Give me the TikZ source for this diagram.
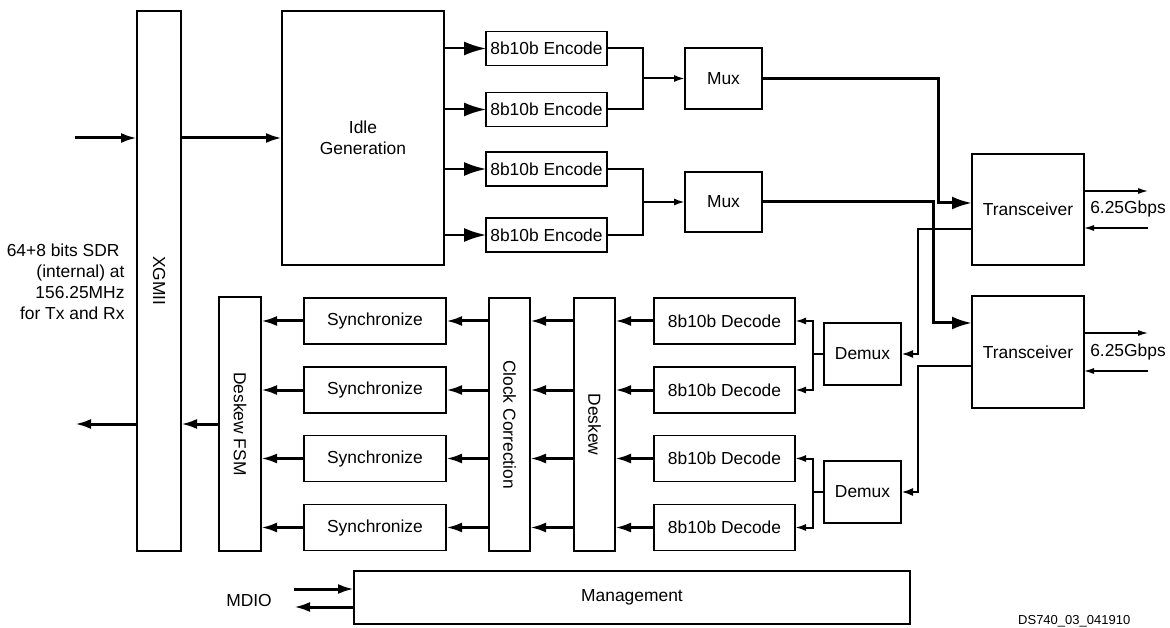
\documentclass[tikz,border=0pt]{standalone}
\usepackage{fontspec}
\setmainfont{Liberation Sans}
\usetikzlibrary{arrows.meta}

\begin{document}
\begin{tikzpicture}[x=1pt,y=-1pt,
  font=\fontsize{17.4}{21}\selectfont,
  blk/.style={draw,line width=1.8pt,inner sep=0pt,outer sep=0pt},
  fat/.style={line width=3pt,-{Latex[length=16pt,width=10pt]}},
  enc/.style={line width=2pt,-{Latex[length=22pt,width=14pt]}},
  thin/.style={line width=2pt,-{Latex[length=11pt,width=7pt]}},
  mid/.style={line width=2.5pt,-{Latex[length=12pt,width=8pt]}},
  big/.style={line width=3pt,-{Latex[length=20pt,width=13pt]}},
  ext/.style={line width=1.2pt,-{Latex[length=10pt,width=6pt]}},
  wire/.style={line width=2pt}]

  \useasboundingbox (0,0) rectangle (1170,628);

  \node[blk, minimum width=44pt, minimum height=540pt] (xgmii) at (159, 281) {\rotatebox{-90}{XGMII}};
  \node[blk, minimum width=162pt, minimum height=254pt, align=center] (idle) at (363, 138) {Idle\\Generation};

  \node[blk, minimum width=121pt, minimum height=34pt] (enc1) at (546.5, 48.5) {8b10b Encode};
  \node[blk, minimum width=121pt, minimum height=34pt] (enc2) at (546.5, 109.5) {8b10b Encode};
  \node[blk, minimum width=121pt, minimum height=34pt] (enc3) at (546.5, 169) {8b10b Encode};
  \node[blk, minimum width=121pt, minimum height=34pt] (enc4) at (546.5, 235) {8b10b Encode};

  \node[blk, minimum width=77pt, minimum height=61pt] (mux1) at (723.5, 78.5) {Mux};
  \node[blk, minimum width=77pt, minimum height=60pt] (mux2) at (723.5, 202) {Mux};

  \node[blk, minimum width=112pt, minimum height=111pt] (trx1) at (1028, 209.5) {Transceiver};
  \node[blk, minimum width=112pt, minimum height=112pt] (trx2) at (1028, 352) {Transceiver};

  \node[blk, minimum width=77pt, minimum height=62pt] (dmx1) at (862.5, 354) {Demux};
  \node[blk, minimum width=77pt, minimum height=62pt] (dmx2) at (862.5, 492) {Demux};

  \node[blk, minimum width=141pt, minimum height=46pt] (dec1) at (724.5, 321) {8b10b Decode};
  \node[blk, minimum width=141pt, minimum height=46pt] (dec2) at (724.5, 390) {8b10b Decode};
  \node[blk, minimum width=141pt, minimum height=46pt] (dec3) at (724.5, 458.5) {8b10b Decode};
  \node[blk, minimum width=141pt, minimum height=46pt] (dec4) at (724.5, 527.5) {8b10b Decode};

  \node[blk, minimum width=41pt, minimum height=253pt] (deskew) at (594.5, 424.5) {\rotatebox{-90}{Deskew}};
  \node[blk, minimum width=41pt, minimum height=253pt] (clkcor) at (509.5, 424.5) {\rotatebox{-90}{Clock Correction}};

  \node[blk, minimum width=142pt, minimum height=46pt] (sync1) at (375, 321) {Synchronize};
  \node[blk, minimum width=142pt, minimum height=46pt] (sync2) at (375, 390) {Synchronize};
  \node[blk, minimum width=142pt, minimum height=46pt] (sync3) at (375, 458.5) {Synchronize};
  \node[blk, minimum width=142pt, minimum height=46pt] (sync4) at (375, 527.5) {Synchronize};

  \node[blk, minimum width=42pt, minimum height=254pt] (dskfsm) at (240, 424) {\rotatebox{-90}{Deskew FSM}};
  \node[blk, minimum width=556pt, minimum height=53pt] (mgmt) at (632, 597.5) {Management};

  \node[align=right, anchor=east] (sdr) at (128, 282) {64+8 bits SDR\hspace*{5pt}\\(internal) at\hspace*{5pt}\\156.25MHz\\for Tx and Rx};
  \node (mdio) at (249, 601) {MDIO};
  \node (rate1) at (1128, 209) {6.25Gbps};
  \node (rate2) at (1128, 352) {6.25Gbps};
  \node[font=\fontsize{13}{15}\selectfont, anchor=north west, inner sep=0pt] (dsnum) at (1018, 615) {DS740\_03\_041910};

  \coordinate (xin) at (75, 138);
  \coordinate (xout) at (75, 424);
  \draw[fat] (xin) -- (xin -| xgmii.west);
  \draw[fat] (xgmii.east |- idle.west) -- (idle.west);
  \draw[fat] (dskfsm.west) -- (dskfsm.west -| xgmii.east);
  \draw[fat] (xout -| xgmii.west) -- (xout);

  \draw[enc] (enc1.west -| idle.east) -- (enc1.west);
  \draw[enc] (enc2.west -| idle.east) -- (enc2.west);
  \draw[enc] (enc3.west -| idle.east) -- (enc3.west);
  \draw[enc] (enc4.west -| idle.east) -- (enc4.west);

  \coordinate (j1) at (643, 78.5);
  \coordinate (j2) at (643, 202);
  \draw[wire] (enc1.east) -| (j1) |- (enc2.east);
  \draw[wire] (enc3.east) -| (j2) |- (enc4.east);
  \draw[thin] (j1) -- (mux1.west);
  \draw[thin] (j2) -- (mux2.west);

  \coordinate (b1) at (938, 203);
  \coordinate (b2) at (933, 323);
  \draw[big] (mux1.east) -| (b1) -- (b1 -| trx1.west);
  \draw[big] (mux2.east) -| (b2) -- (b2 -| trx2.west);

  \coordinate (c1) at (918, 229);
  \coordinate (c2) at (918, 366);
  \draw[mid] (c1 -| trx1.west) -- (c1) |- (dmx1.east);
  \draw[mid] (c2 -| trx2.west) -- (c2) |- (dmx2.east);

  \coordinate (d1) at (813, 354);
  \coordinate (d2) at (813, 492);
  \draw[wire] (dmx1.west) -- (d1);
  \draw[wire] (dmx2.west) -- (d2);
  \draw[thin] (d1) |- (dec1.east);
  \draw[thin] (d1) |- (dec2.east);
  \draw[thin] (d2) |- (dec3.east);
  \draw[thin] (d2) |- (dec4.east);

  \draw[fat] (dec1.west) -- (dec1.west -| deskew.east);
  \draw[fat] (dec2.west) -- (dec2.west -| deskew.east);
  \draw[fat] (dec3.west) -- (dec3.west -| deskew.east);
  \draw[fat] (dec4.west) -- (dec4.west -| deskew.east);
  \draw[fat] (dec1.west -| deskew.west) -- (dec1.west -| clkcor.east);
  \draw[fat] (dec2.west -| deskew.west) -- (dec2.west -| clkcor.east);
  \draw[fat] (dec3.west -| deskew.west) -- (dec3.west -| clkcor.east);
  \draw[fat] (dec4.west -| deskew.west) -- (dec4.west -| clkcor.east);
  \draw[fat] (sync1.east -| clkcor.west) -- (sync1.east);
  \draw[fat] (sync2.east -| clkcor.west) -- (sync2.east);
  \draw[fat] (sync3.east -| clkcor.west) -- (sync3.east);
  \draw[fat] (sync4.east -| clkcor.west) -- (sync4.east);
  \draw[fat] (sync1.west) -- (sync1.west -| dskfsm.east);
  \draw[fat] (sync2.west) -- (sync2.west -| dskfsm.east);
  \draw[fat] (sync3.west) -- (sync3.west -| dskfsm.east);
  \draw[fat] (sync4.west) -- (sync4.west -| dskfsm.east);

  \coordinate (mdin) at (294, 589);
  \coordinate (mdout) at (294, 607);
  \draw[fat] (mdin) -- (mdin -| mgmt.west);
  \draw[fat] (mdout -| mgmt.west) -- (mdout);

  \coordinate (e1o) at (1148, 191);
  \coordinate (e1i) at (1148, 228);
  \coordinate (e2o) at (1148, 333);
  \coordinate (e2i) at (1148, 371);
  \draw[ext] (e1o -| trx1.east) -- (e1o);
  \draw[ext] (e1i) -- (e1i -| trx1.east);
  \draw[ext] (e2o -| trx2.east) -- (e2o);
  \draw[ext] (e2i) -- (e2i -| trx2.east);
\end{tikzpicture}
\end{document}
